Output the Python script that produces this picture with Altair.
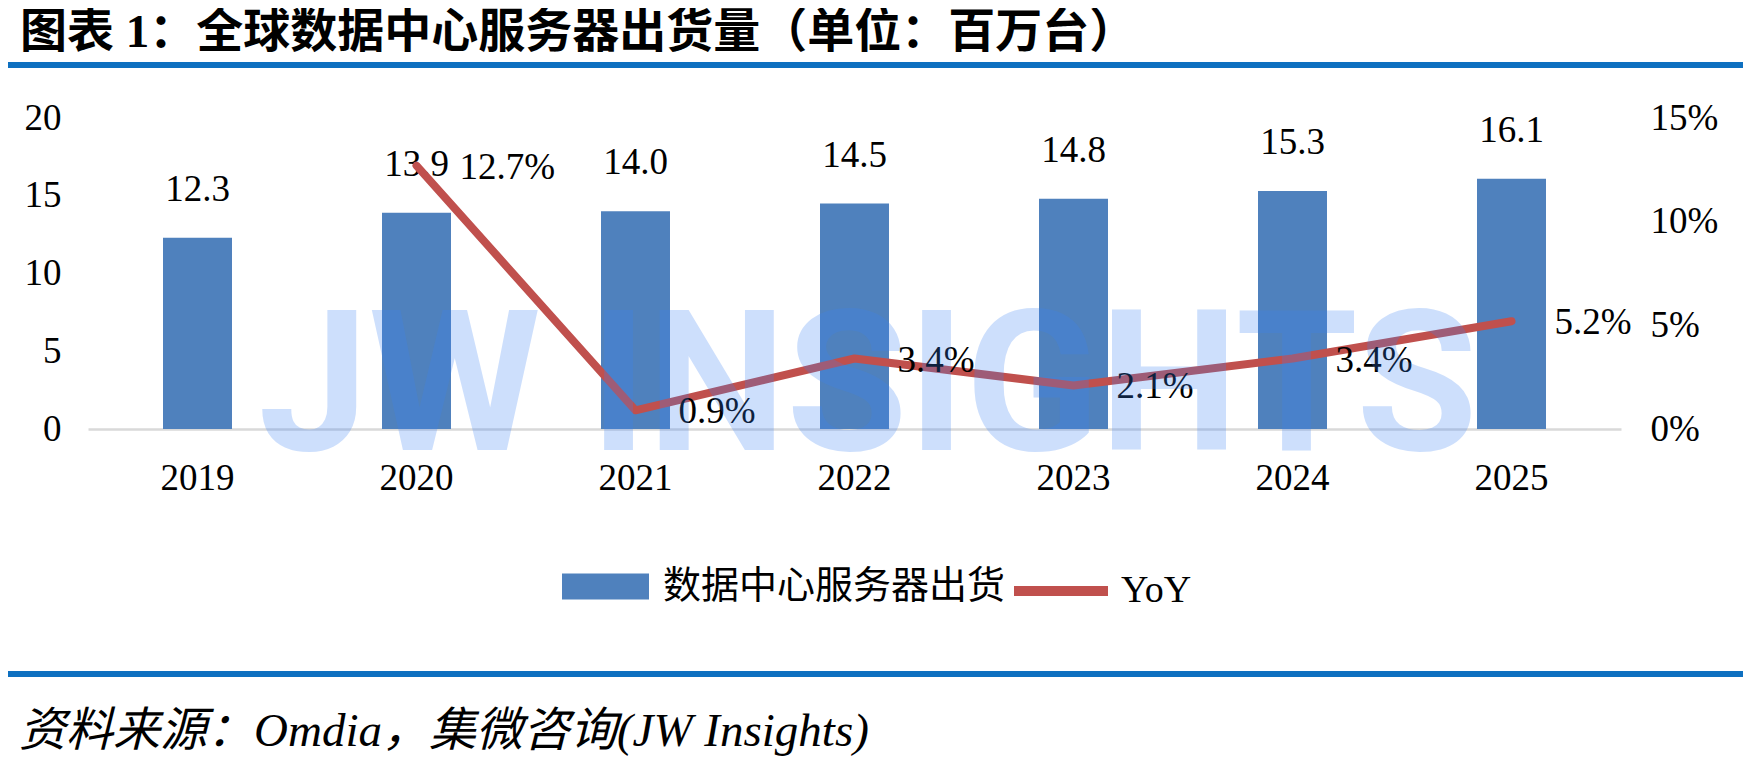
import altair as alt
import pandas as pd

years = ["2019", "2020", "2021", "2022", "2023", "2024", "2025"]
shipments = [12.3, 13.9, 14.0, 14.5, 14.8, 15.3, 16.1]
yoy = [None, 0.127, 0.009, 0.034, 0.021, 0.034, 0.052]
bar_series = "数据中心服务器出货"
line_series = "YoY"
left_ticks = [0, 5, 10, 15, 20]
right_ticks = [0, 0.05, 0.10, 0.15]
title_text = ["图表 1：全球数据中心服务器出货量（单位：百万台）"]
source_text = ["资料来源：Omdia，集微咨询(JW Insights)"]
watermark_text = ["JW INSIGHTS"]

df = pd.DataFrame({"year": years, "shipments": shipments, "yoy": yoy})
df["s1"] = bar_series
df["s2"] = line_series

FONT = "Liberation Serif, Noto Sans CJK SC"
BLUE = "#4f81bd"
RED = "#c0504d"
RULE = "#0e70c0"

base = alt.Chart(df)

x = alt.X(
    "year:N", sort=years,
    scale=alt.Scale(paddingInner=0.685, paddingOuter=0.3425),
    axis=alt.Axis(title=None, labelAngle=0, labelFont=FONT, labelFontSize=37,
                  labelColor="#000", labelPadding=31, ticks=False,
                  domainColor="#d9d9d9", domainWidth=2.5, grid=False),
)
y1 = alt.Y(
    "shipments:Q", scale=alt.Scale(domain=[0, 20], nice=False),
    axis=alt.Axis(title=None, values=left_ticks, orient="left", labelFont=FONT,
                  labelFontSize=37, labelColor="#000", labelPadding=27,
                  ticks=False, domain=False, grid=False),
)
y2 = alt.Y(
    "yoy:Q", scale=alt.Scale(domain=[0, 0.15], nice=False),
    axis=alt.Axis(title=None, values=right_ticks, format=".0%", orient="right",
                  labelFont=FONT, labelFontSize=37, labelColor="#000",
                  labelPadding=29, ticks=False, domain=False, grid=False),
)

bars = base.mark_bar().encode(
    x=x, y=y1,
    color=alt.Color(
        "s1:N", scale=alt.Scale(domain=[bar_series], range=[BLUE]),
        legend=alt.Legend(title=None, orient="none", legendX=474, legendY=425,
                          symbolType="M-1,-0.3H1V0.3H-1Z", symbolSize=7569,
                          symbolStrokeWidth=0, symbolOpacity=1,
                          labelFont=FONT, labelFontSize=38, labelColor="#000",
                          labelOffset=14, labelLimit=0, padding=0),
    ),
)
bar_text = base.mark_text(dy=-48, baseline="middle", font=FONT, fontSize=37,
                          color="#000").encode(
    x=x, y=y1, text=alt.Text("shipments:Q", format=".1f"))

line_base = base.transform_filter("isValid(datum.yoy)")
line = line_base.mark_line(strokeWidth=8, strokeCap="round", strokeJoin="round").encode(
    x=x, y=y2,
    stroke=alt.Stroke(
        "s2:N", scale=alt.Scale(domain=[line_series], range=[RED]),
        legend=alt.Legend(title=None, orient="none", legendX=921, legendY=421,
                          symbolType="stroke", symbolSize=8836,
                          symbolStrokeWidth=10, labelFont=FONT, labelFontSize=38,
                          labelColor="#000", labelOffset=8, labelLimit=0,
                          padding=0),
    ),
)
line_text = line_base.mark_text(align="left", dx=43, dy=2, baseline="middle",
                                font=FONT, fontSize=37, color="#000").encode(
    x=x, y=y2, text=alt.Text("yoy:Q", format=".1%"))

left_layer = alt.layer(bars, bar_text)
right_layer = alt.layer(line, line_text)

title = alt.Chart(pd.DataFrame({"label": title_text})).mark_text(
    align="left", baseline="middle", font=FONT, fontSize=47, fontWeight="bold",
    color="#000").encode(x=alt.value(-68), y=alt.value(-85), text="label:N")

source = alt.Chart(pd.DataFrame({"label": source_text})).mark_text(
    align="left", baseline="middle", font=FONT, fontSize=47, fontStyle="italic",
    color="#000").encode(x=alt.value(-69), y=alt.value(614), text="label:N")

watermark = alt.Chart(pd.DataFrame({"label": watermark_text})).mark_text(
    align="center", baseline="alphabetic", font="Roboto",
    fontSize=197, fontWeight="bold", color="#3b82f6", opacity=0.25).encode(
    x=alt.value(780), y=alt.value(332), text="label:N")

rule_df = pd.DataFrame({"k": [0]})
top_rule = alt.Chart(rule_df).mark_rule(color=RULE, strokeWidth=6).encode(
    x=alt.value(-85), x2=alt.value(1680), y=alt.value(-53))
bottom_rule = alt.Chart(rule_df).mark_rule(color=RULE, strokeWidth=6).encode(
    x=alt.value(-85), x2=alt.value(1680), y=alt.value(556))

chart = alt.layer(
    left_layer, right_layer, watermark, title, source, top_rule, bottom_rule
).resolve_scale(y="independent", color="independent").properties(
    width=1533, height=311,
    padding={"left": 80, "top": 110, "right": 122, "bottom": 328},
    autosize=alt.AutoSizeParams(type="none"),
    background="white",
).configure_view(stroke=None)

chart.save("out.html", embed_options={"renderer": "svg", "actions": False})
